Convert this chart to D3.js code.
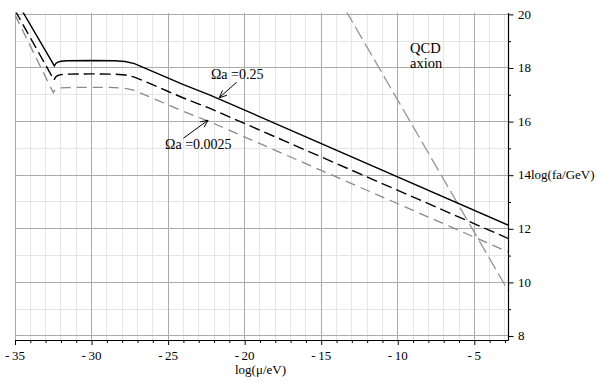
<!DOCTYPE html>
<html>
<head>
<meta charset="utf-8">
<script src="https://cdn.jsdelivr.net/npm/d3@7"></script>
<style>
  html, body { margin: 0; padding: 0; background: #fff; }
  svg { display: block; }
  text { font-family: "Liberation Serif", "Times New Roman", serif; fill: #000; }
</style>
</head>
<body>
<div id="chart"></div>
<script>
// ---- Data ----
// x = log(mu/eV), y = log(fa/GeV)
const solidX  = [-35, -32.43, -32.33, -32.2, -32.0, -31.6, -30, -28.5, -27.8, -27.2, -26.4, -25.1, -24, -22.3, -2.8];
const solidY  = [20.59, 18.08, 18.17, 18.22, 18.25, 18.27, 18.28, 18.27, 18.24, 18.16, 17.97, 17.65, 17.38, 17.0, 12.14];
const dashX   = [-35, -32.45, -32.35, -32.2, -32.0, -31.6, -30, -28.5, -27.8, -27.2, -26.4, -25.1, -24, -22.3, -2.8];
const dashY   = [20.15, 17.55, 17.66, 17.72, 17.75, 17.77, 17.78, 17.77, 17.74, 17.66, 17.47, 17.15, 16.88, 16.5, 11.64];
const grayX   = [-35, -32.5, -32.4, -32.25, -32.0, -31.6, -30, -28.5, -27.8, -27.2, -26.4, -25.1, -24, -22.3, -2.8];
const grayY   = [19.98, 17.08, 17.17, 17.23, 17.26, 17.27, 17.28, 17.27, 17.24, 17.16, 16.97, 16.65, 16.38, 16.0, 11.14];
const qcdX    = [-13.4, -2.8];
const qcdY    = [20.15, 9.7];

const xMajorTicks = [-35, -30, -25, -20, -15, -10, -5];
const xTickLabels = ["-\u200935", "-\u200930", "-\u200925", "-\u200920", "-\u200915", "-\u200910", "-\u20095"];
const yMajorTicks = [8, 10, 12, 14, 16, 18, 20];
const yTickLabels = ["8", "10", "12", "14", "16", "18", "20"];
const xTitle = "log(\u03bc/eV)";
const yTitle = "log(fa/GeV)";

// annotations (data coordinates)
const labelTexts = ["\u03a9a =0.25", "\u03a9a =0.0025"];
const labelX = [-22.2, -25.2];
const labelY = [17.59, 14.98];
const arrowTailX = [-20.52, -24.0];
const arrowTailY = [17.47, 15.38];
const arrowTipX  = [-21.66, -22.39];
const arrowTipY  = [16.89, 16.05];
const qcdLines = ["QCD", "axion"];
const qcdLabelX = -9.2;
const qcdLabelY = [18.56, 18.0];

// ---- Layout ----
const W = 600, H = 382;
const xDom = [-35, -2.8], yDom = [7.85, 20.07];
const x = d3.scaleLinear().domain(xDom).range([15, 508]);
const y = d3.scaleLinear().domain(yDom).range([340, 12.5]);

const svg = d3.select("#chart").append("svg").attr("width", W).attr("height", H);

svg.append("defs").append("clipPath").attr("id", "clip")
  .append("rect").attr("x", x(xDom[0])).attr("y", y(yDom[1]))
  .attr("width", x(xDom[1]) - x(xDom[0])).attr("height", y(yDom[0]) - y(yDom[1]));

// grid
const minorX = d3.range(-34, -2).filter(v => v % 5 !== 0);
const minorY = d3.range(9, 20).filter(v => v % 2 !== 0);
const grid = svg.append("g").attr("shape-rendering", "crispEdges");
grid.selectAll(".mx").data(minorX).enter().append("line")
  .attr("x1", d => x(d)).attr("x2", d => x(d)).attr("y1", y(yDom[1])).attr("y2", y(yDom[0]))
  .attr("stroke", "#e6e6e6");
grid.selectAll(".my").data(minorY).enter().append("line")
  .attr("y1", d => y(d)).attr("y2", d => y(d)).attr("x1", x(xDom[0])).attr("x2", x(xDom[1]))
  .attr("stroke", "#e6e6e6");
grid.selectAll(".Mx").data(xMajorTicks).enter().append("line")
  .attr("x1", d => x(d)).attr("x2", d => x(d)).attr("y1", y(yDom[1])).attr("y2", y(yDom[0]))
  .attr("stroke", "#ababab");
grid.selectAll(".My").data(yMajorTicks).enter().append("line")
  .attr("y1", d => y(d)).attr("y2", d => y(d)).attr("x1", x(xDom[0])).attr("x2", x(xDom[1]))
  .attr("stroke", "#ababab");

// curves
const line = d3.line().x(d => x(d[0])).y(d => y(d[1])).curve(d3.curveLinear);
const zip = (a, b) => a.map((v, i) => [v, b[i]]);
const plot = svg.append("g").attr("clip-path", "url(#clip)");
plot.append("path").datum(zip(qcdX, qcdY)).attr("d", line)
  .attr("fill", "none").attr("stroke", "#959595").attr("stroke-width", 1.3).attr("stroke-dasharray", "14,5");
plot.append("path").datum(zip(grayX, grayY)).attr("d", line)
  .attr("fill", "none").attr("stroke", "#8a8a8a").attr("stroke-width", 1.3).attr("stroke-dasharray", "10,6");
plot.append("path").datum(zip(dashX, dashY)).attr("d", line)
  .attr("fill", "none").attr("stroke", "#000").attr("stroke-width", 1.4).attr("stroke-dasharray", "11,5");
plot.append("path").datum(zip(solidX, solidY)).attr("d", line)
  .attr("fill", "none").attr("stroke", "#000").attr("stroke-width", 1.4);

// bottom axis
const ax = svg.append("g").attr("transform", `translate(0,${y(yDom[0])})`);
ax.call(d3.axisBottom(x).tickValues(d3.range(-35, -2)).tickSize(3).tickSizeOuter(0).tickFormat(""));
ax.selectAll(".tick line").attr("y2", d => (d % 5 === 0 ? 5 : 3));
ax.select(".domain").attr("stroke", "#000").attr("stroke-width", 1.2);
ax.selectAll(".tick line").attr("stroke", "#000");
const axL = svg.append("g");
axL.selectAll("text").data(xMajorTicks).enter().append("text")
  .attr("x", d => x(d)).attr("y", 359.5).attr("text-anchor", "middle")
  .attr("font-size", 13).text((d, i) => xTickLabels[i]);
svg.append("text").attr("x", 235).attr("y", 373.5).attr("font-size", 13).text(xTitle);

// right axis
const ay = svg.append("g").attr("transform", `translate(${x(xDom[1])},0)`);
ay.call(d3.axisRight(y).tickValues(d3.range(8, 21)).tickSize(3).tickSizeOuter(0).tickFormat(""));
ay.selectAll(".tick line").attr("x2", d => (d % 2 === 0 ? 5.5 : 3)).attr("stroke", "#000");
ay.select(".domain").attr("stroke", "#000").attr("stroke-width", 1.2);
const ayL = svg.append("g");
ayL.selectAll("text").data(yMajorTicks).enter().append("text")
  .attr("x", 518).attr("y", d => y(d)).attr("dy", "0.33em")
  .attr("font-size", 13).text((d, i) => yTickLabels[i]);
svg.append("text").attr("x", 518 + 13).attr("y", y(14)).attr("dy", "0.33em")
  .attr("font-size", 13).text(yTitle);

// annotations
const ann = svg.append("g");
labelTexts.forEach((t, i) => {
  ann.append("text").attr("x", x(labelX[i])).attr("y", y(labelY[i])).attr("font-size", 14).text(t);
  const x1 = x(arrowTailX[i]), y1 = y(arrowTailY[i]), x2 = x(arrowTipX[i]), y2 = y(arrowTipY[i]);
  const ang = Math.atan2(y2 - y1, x2 - x1), L = 8, a = 0.42;
  const p1 = [x2 - L * Math.cos(ang - a), y2 - L * Math.sin(ang - a)];
  const p2 = [x2 - L * Math.cos(ang + a), y2 - L * Math.sin(ang + a)];
  ann.append("path")
    .attr("d", `M${x1},${y1}L${x2},${y2}M${p1[0]},${p1[1]}L${x2},${y2}L${p2[0]},${p2[1]}`)
    .attr("fill", "none").attr("stroke", "#000").attr("stroke-width", 1);
});
qcdLines.forEach((t, i) => {
  ann.append("text").attr("x", x(qcdLabelX)).attr("y", y(qcdLabelY[i])).attr("font-size", 14.5).text(t);
});
</script>
</body>
</html>
